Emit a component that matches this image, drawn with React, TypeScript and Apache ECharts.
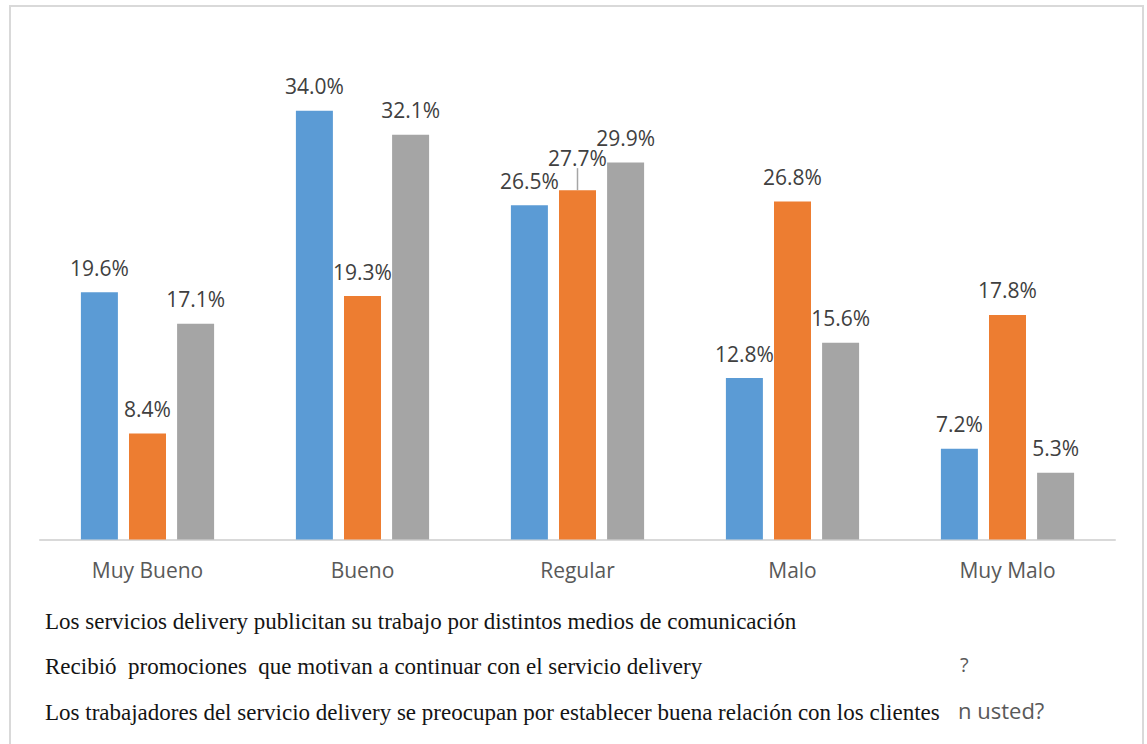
import React, { useEffect, useRef } from "react";
import * as echarts from "echarts";

const categories = ["Muy Bueno", "Bueno", "Regular", "Malo", "Muy Malo"];
const publicitan = [19.6, 34.0, 26.5, 12.8, 7.2];
const promociones = [8.4, 19.3, 27.7, 26.8, 17.8];
const relacion = [17.1, 32.1, 29.9, 15.6, 5.3];
const seriesNames = [
  "Los servicios delivery publicitan su trabajo por distintos medios de comunicación",
  "Recibió  promociones  que motivan a continuar con el servicio delivery",
  "Los trabajadores del servicio delivery se preocupan por establecer buena relación con los clientes",
];
const strayTexts = ["?", "n usted?"];
const colors = ["#5B9BD5", "#ED7D31", "#A5A5A5"];
const movedLabel = { series: 1, index: 2 };

export default function App() {
  const ref = useRef<HTMLDivElement>(null);
  useEffect(() => {
    if (!ref.current) return;
    const chart = echarts.init(ref.current, null, { renderer: "svg" });
    const values = [publicitan, promociones, relacion];
    const labelStyle = {
      show: true,
      position: "top",
      distance: 14,
      color: "#404040",
      fontFamily: "Open Sans",
      fontSize: 21,
      formatter: (p: any) => p.value.toFixed(1) + "%",
    };
    chart.setOption({
      animation: false,
      backgroundColor: "#ffffff",
      grid: { left: 40, right: 32, top: 35, bottom: 204.5, containLabel: false },
      xAxis: {
        type: "category",
        data: categories,
        axisLine: { show: true, lineStyle: { color: "#d9d9d9", width: 2 } },
        axisTick: { show: false },
        axisLabel: {
          color: "#595959",
          fontFamily: "Open Sans",
          fontSize: 21,
          margin: 20,
        },
      },
      yAxis: {
        type: "value",
        min: 0,
        max: 40,
        show: false,
        splitLine: { show: false },
      },
      series: values.map((v, i) => ({
        type: "bar",
        name: seriesNames[i],
        data: v.map((val, j) =>
          i === movedLabel.series && j === movedLabel.index
            ? {
                value: val,
                labelLine: {
                  show: true,
                  lineStyle: { color: "#a6a6a6", width: 1.5 },
                },
              }
            : { value: val, labelLine: { show: false } }
        ),
        barWidth: 37,
        barGap: "30%",
        itemStyle: { color: colors[i] },
        label: labelStyle,
        labelLayout:
          i === movedLabel.series
            ? (p: any) => (p.dataIndex === movedLabel.index ? { dy: -8 } : {})
            : undefined,
      })),
      graphic: [
        {
          type: "rect",
          silent: true,
          shape: { x: 10, y: 6, width: 1133, height: 760 },
          style: { fill: "none", stroke: "#d9d9d9", lineWidth: 2 },
        },
        ...seriesNames.map((t, i) => ({
          type: "text",
          left: 45,
          top: [610, 655, 701][i],
          style: {
            text: t,
            font: "23px 'Liberation Serif'",
            fill: "#141414",
          },
        })),
        {
          type: "text",
          left: 960,
          top: 654,
          style: { text: strayTexts[0], font: "20px 'Open Sans'", fill: "#595959" },
        },
        {
          type: "text",
          left: 958,
          top: 699,
          style: { text: strayTexts[1], font: "22px 'Open Sans'", fill: "#595959" },
        },
      ],
    });
    return () => chart.dispose();
  }, []);
  return (
    <div
      ref={ref}
      style={{ position: "fixed", left: 0, top: 0, width: 1147, height: 744 }}
    />
  );
}
